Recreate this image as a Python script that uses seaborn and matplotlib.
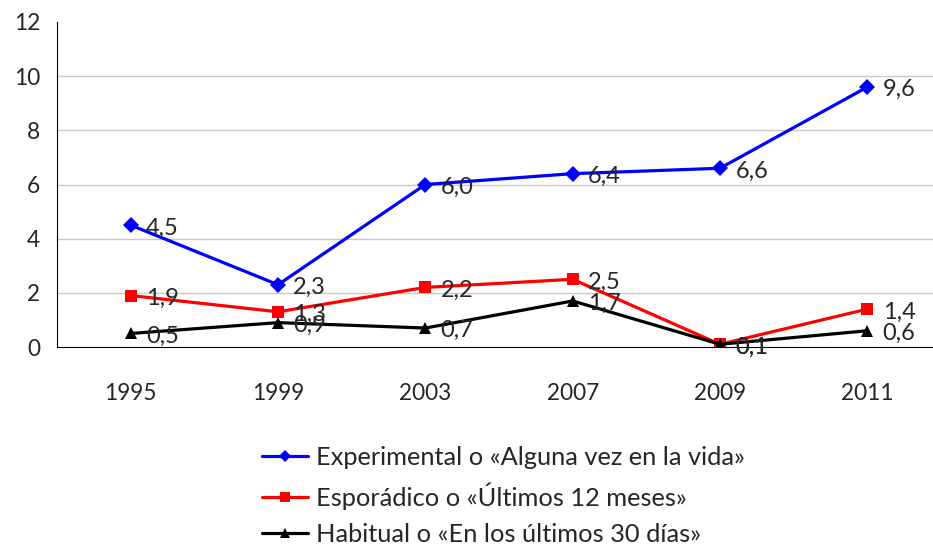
import numpy as np
import pandas as pd
import matplotlib.pyplot as plt
import seaborn as sns

years = ['1995', '1999', '2003', '2007', '2009', '2011']
experimental = [4.5, 2.3, 6.0, 6.4, 6.6, 9.6]
esporadico = [1.9, 1.3, 2.2, 2.5, 0.1, 1.4]
habitual = [0.5, 0.9, 0.7, 1.7, 0.1, 0.6]
series_names = ['Experimental o «Alguna vez en la vida»',
                'Esporádico o «Últimos 12 meses»',
                'Habitual o «En los últimos 30 días»']

sns.set_style('white')
plt.rcParams['font.family'] = ['Lato', 'DejaVu Sans']

df = pd.DataFrame({
    'year': years * 3,
    'value': experimental + esporadico + habitual,
    'serie': [series_names[0]] * 6 + [series_names[1]] * 6 + [series_names[2]] * 6,
})

colors = {series_names[0]: '#0000FF', series_names[1]: '#FF0000', series_names[2]: '#000000'}
markers = {series_names[0]: 'D', series_names[1]: 's', series_names[2]: '^'}

fig = plt.figure(figsize=(9.33, 5.49), dpi=100)
ax = fig.add_axes([57 / 933, 1 - 347 / 549, 884 / 933, 325 / 549])

sns.lineplot(data=df, x='year', y='value', hue='serie', style='serie',
             palette=colors, markers=markers, dashes=False, linewidth=2.3,
             markeredgewidth=0, markersize=8, ax=ax, legend=False, sort=False)

# подписи значений
for name, vals in zip(series_names, [experimental, esporadico, habitual]):
    for i, v in enumerate(vals):
        ax.annotate(f'{v:.1f}'.replace('.', ','), (i, v), xytext=(11, -2),
                    textcoords='offset points', ha='left', va='center', fontsize=17)

ax.set_xlim(-0.5, 5.5)
ax.set_ylim(0, 12)
ax.set_yticks(range(0, 13, 2))
for y in range(2, 12, 2):
    ax.axhline(y, color='#c8c8c8', linewidth=1, zorder=0)
ax.set_xticks(np.arange(-0.5, 6, 1), minor=True)
ax.tick_params(axis='x', which='major', length=0, pad=26, labelsize=16.3)
ax.tick_params(axis='x', which='minor', length=8, width=1, color='black', direction='out')
ax.tick_params(axis='y', length=8, width=1, color='black', direction='out', labelsize=16.3, pad=4)
ax.set_xlabel('')
ax.set_ylabel('')
for s in ['top', 'right']:
    ax.spines[s].set_visible(False)
ax.spines['left'].set_color('black')
ax.spines['bottom'].set_color('black')

handles = [plt.Line2D([], [], color=colors[n], marker=markers[n], markersize=6.5,
                      linewidth=2.3, markeredgewidth=0) for n in series_names]
fig.legend(handles, series_names, loc='upper left', bbox_to_anchor=(262 / 933, 1 - 446 / 549),
           frameon=False, fontsize=18.3, handlelength=1.8, handletextpad=0.32, labelspacing=0.52,
           borderaxespad=0, borderpad=0)

fig.savefig('out.png', dpi=100)
